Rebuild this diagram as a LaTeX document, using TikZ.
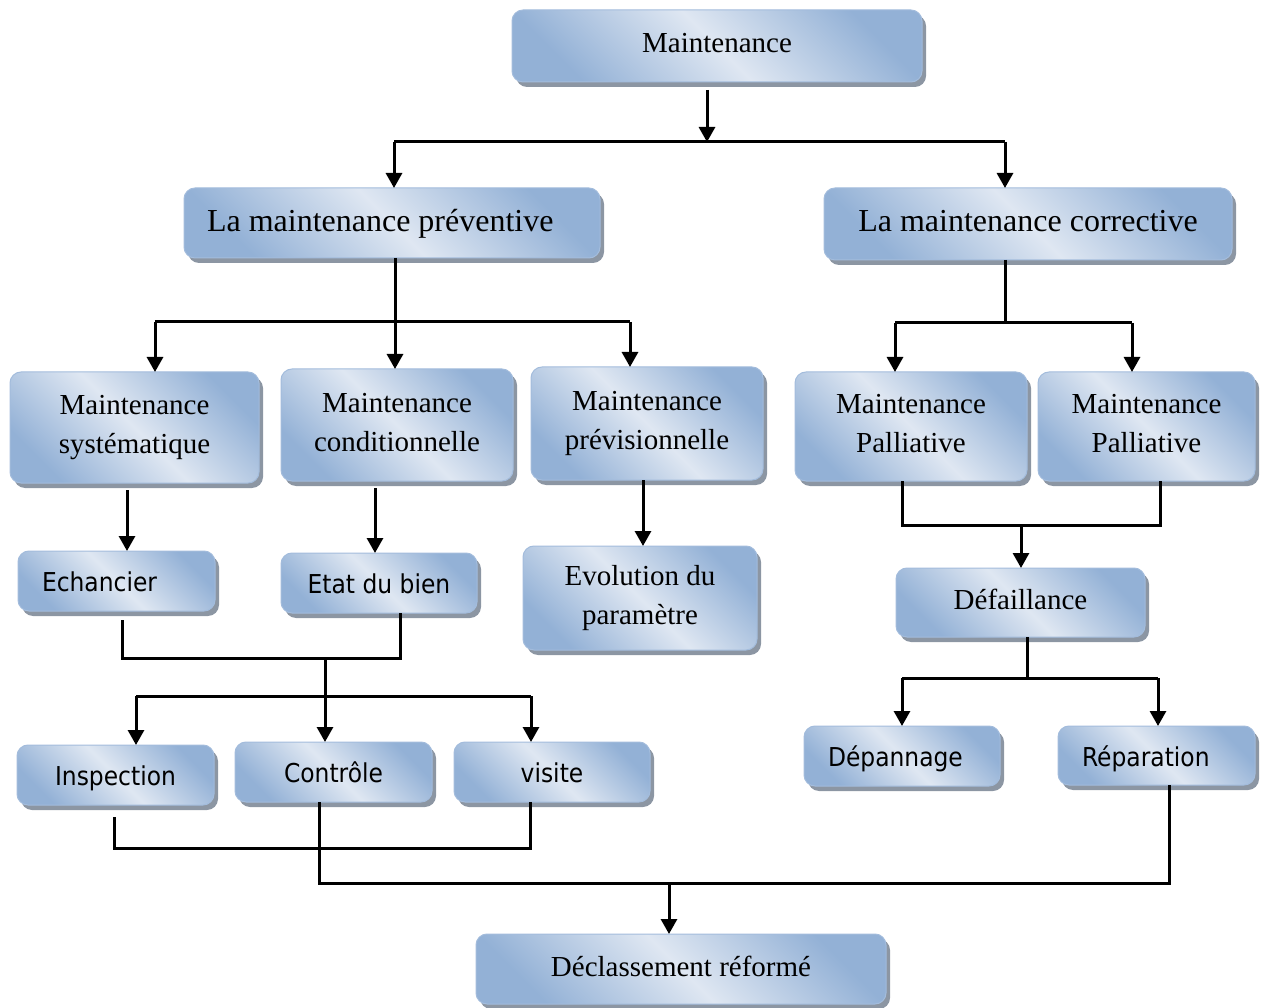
\documentclass[tikz,border=0pt]{standalone}
\usepackage{fontspec}
\setmainfont{Liberation Serif}
\newfontfamily\boxsans[FakeStretch=0.9]{DejaVu Sans}
\usetikzlibrary{arrows.meta,shadows}

\definecolor{boxdark}{HTML}{93B1D6}
\definecolor{boxlight}{HTML}{DFE7F2}
\definecolor{boxedge}{HTML}{A3BCDC}
\definecolor{boxshadow}{HTML}{8C96A3}

\tikzset{
  box/.style={rectangle, rounded corners=11pt, draw=boxedge, line width=1pt,
    top color=boxdark, bottom color=boxdark, middle color=boxlight, shading angle=-45,
    drop shadow={shadow xshift=4pt, shadow yshift=-5pt, fill=boxshadow, opacity=1},
    inner sep=0pt, outer sep=0pt, align=center, text depth=6pt,
    font=\fontsize{29}{39}\selectfont},
  bigbox/.style={box, font=\fontsize{32}{38}\selectfont},
  sansbox/.style={box, text height=25pt, text depth=4pt, font=\boxsans\fontsize{26}{31}\selectfont},
  padleft/.style={align=flush left, text width=#1},
  wire/.style={line width=3pt, black},
  arr/.style={wire, -{Triangle[length=15pt,width=16pt]}},
}

\begin{document}
\begin{tikzpicture}[x=1pt,y=-1pt]
\useasboundingbox (0,0) rectangle (1262,1008);

% boxes
\node[box, minimum width=410pt, minimum height=72pt] (m) at (717,46) {Maintenance};

\node[bigbox, padleft=370pt, minimum width=416pt, minimum height=70pt] (prev) at (392,223) {La maintenance préventive};
\node[bigbox, minimum width=408pt, minimum height=72pt] (corr) at (1028,224) {La maintenance corrective};

\node[box, minimum width=249pt, minimum height=111pt] (sys) at (134.5,427.5) {Maintenance\\systématique};
\node[box, minimum width=232pt, minimum height=112pt] (cond) at (397,425) {Maintenance\\conditionnelle};
\node[box, minimum width=232pt, minimum height=113pt] (previs) at (647,423.5) {Maintenance\\prévisionnelle};
\node[box, minimum width=232pt, minimum height=109pt] (pal1) at (911,426.5) {Maintenance\\Palliative};
\node[box, minimum width=217pt, minimum height=109pt] (pal2) at (1146.5,426.5) {Maintenance\\Palliative};

\node[sansbox, padleft=149pt, minimum width=197pt, minimum height=60pt] (ech) at (116.5,581) {Echancier};
\node[sansbox, minimum width=196pt, minimum height=60pt] (etat) at (379,583) {Etat du bien};
\node[box, minimum width=234pt, minimum height=104pt] (evol) at (640,598) {Evolution du\\paramètre};
\node[box, minimum width=249pt, minimum height=69pt] (def) at (1020.5,602.5) {Défaillance};

\node[sansbox, minimum width=197pt, minimum height=60pt] (insp) at (115.5,775) {Inspection};
\node[sansbox, minimum width=197pt, minimum height=60pt] (ctrl) at (333.5,772) {Contrôle};
\node[sansbox, minimum width=196pt, minimum height=60pt] (vis) at (552,772) {visite};
\node[sansbox, padleft=148pt, minimum width=196pt, minimum height=60pt] (dep) at (902,756) {Dépannage};
\node[sansbox, padleft=149pt, minimum width=197pt, minimum height=59pt] (rep) at (1156.5,755.5) {Réparation};

\node[box, minimum width=410pt, minimum height=70pt] (decl) at (681,969) {Déclassement réformé};

% junction points
\coordinate (a1) at (707,142);
\coordinate (a1l) at (394,142);
\coordinate (a1r) at (1005,142);
\coordinate (b1) at (395,322);
\coordinate (b1l) at (155,322);
\coordinate (b1r) at (630,322);
\coordinate (c1) at (1005,323);
\coordinate (c1l) at (895,323);
\coordinate (c1r) at (1132,323);
\coordinate (xs) at (127,0);
\coordinate (xc) at (375,0);
\coordinate (xp) at (643,0);
\coordinate (p1) at (902,525);
\coordinate (p2) at (1160,525);
\coordinate (p3) at (1021,525);
\coordinate (e1) at (122,658);
\coordinate (e2) at (400,658);
\coordinate (e3) at (325,658);
\coordinate (f1) at (136,696);
\coordinate (f2) at (531,696);
\coordinate (g1) at (114,848);
\coordinate (g2) at (530,848);
\coordinate (h1) at (319,883);
\coordinate (h2) at (1169,883);
\coordinate (h3) at (669,883);
\coordinate (k1) at (1027,678);
\coordinate (k1l) at (902,678);
\coordinate (k1r) at (1158,678);

% top level
\draw[arr, shorten <=8pt] (m.south -| a1) -- (a1);
\draw[wire] (a1l) -- (a1r);
\draw[arr] (a1l) -- (a1l |- prev.north);
\draw[arr] (a1r) -- (a1r |- corr.north);

% preventive branch
\draw[arr] (prev.south -| b1) -- (b1 |- cond.north);
\draw[wire] (b1l) -- (b1r);
\draw[arr] (b1l) -- (b1l |- sys.north);
\draw[arr] (b1r) -- (b1r |- previs.north);

% corrective branch
\draw[wire] (corr.south -| c1) -- (c1);
\draw[wire] (c1l) -- (c1r);
\draw[arr] (c1l) -- (c1l |- pal1.north);
\draw[arr] (c1r) -- (c1r |- pal2.north);

% second level to third level
\draw[arr, shorten <=7pt] (sys.south -| xs) -- (xs |- ech.north);
\draw[arr, shorten <=7pt] (cond.south -| xc) -- (xc |- etat.north);
\draw[arr] (previs.south -| xp) -- (xp |- evol.north);

\draw[wire] (pal1.south -| p1) -- (p1) -- (p2) -- (pal2.south -| p2);
\draw[arr] (p3) -- (p3 |- def.north);

% schedule / state to the checks
\draw[wire, shorten <=9pt] (ech.south -| e1) -- (e1) -- (e2) -- (etat.south -| e2);
\draw[wire] (f1) -- (f2);
\draw[arr] (e3) -- (e3 |- ctrl.north);
\draw[arr] (f1) -- (f1 |- insp.north);
\draw[arr] (f2) -- (f2 |- vis.north);

% failure to repair
\draw[wire] (def.south -| k1) -- (k1);
\draw[wire] (k1l) -- (k1r);
\draw[arr] (k1l) -- (k1l |- dep.north);
\draw[arr] (k1r) -- (k1r |- rep.north);

% everything to decommissioning
\draw[wire, shorten <=12pt] (insp.south -| g1) -- (g1) -- (g2) -- (vis.south -| g2);
\draw[wire] (ctrl.south -| h1) -- (h1) -- (h2) -- (rep.south -| h2);
\draw[arr] (h3) -- (h3 |- decl.north);

\end{tikzpicture}
\end{document}
